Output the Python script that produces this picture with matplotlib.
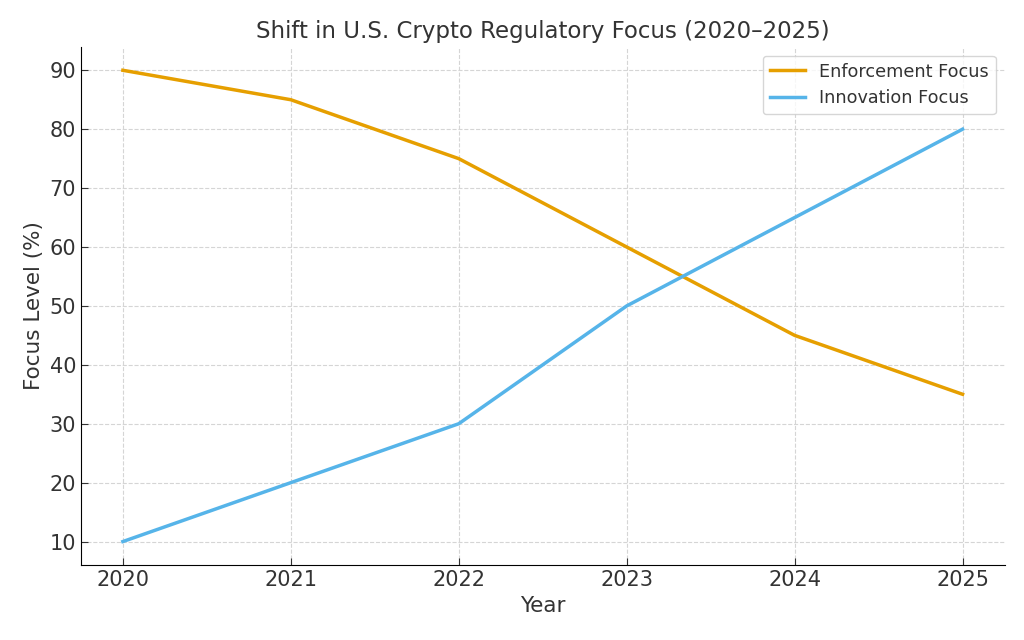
import matplotlib
matplotlib.use('Agg')
import matplotlib.pyplot as plt

YEARS = [2020, 2021, 2022, 2023, 2024, 2025]
ENFORCEMENT = [90, 85, 75, 60, 45, 35]
INNOVATION = [10, 20, 30, 50, 65, 80]

TEXT = '#333333'

plt.rcParams['font.family'] = ['DejaVu Sans']
plt.rcParams['text.color'] = TEXT
plt.rcParams['axes.labelcolor'] = TEXT
plt.rcParams['xtick.color'] = TEXT
plt.rcParams['ytick.color'] = TEXT

fig, ax = plt.subplots(figsize=(10.24, 6.4), dpi=100)
fig.subplots_adjust(left=0.079, right=0.981, top=0.927, bottom=0.117)

ax.plot(YEARS, ENFORCEMENT, color='#E69F00', linewidth=2.5, label='Enforcement Focus')
ax.plot(YEARS, INNOVATION, color='#56B4E9', linewidth=2.5, label='Innovation Focus')

ax.set_title('Shift in U.S. Crypto Regulatory Focus (2020\u20132025)', fontsize=16.5)
ax.set_xlabel('Year', fontsize=15.5)
ax.set_ylabel('Focus Level (%)', fontsize=15.5)
ax.tick_params(labelsize=15, direction='in', length=5)
ax.set_xticks(YEARS)

ax.grid(True, linestyle='--', color='#d5d5d5', linewidth=0.8)
ax.spines['top'].set_visible(False)
ax.spines['right'].set_visible(False)

ax.legend(loc='upper right', fontsize=12.7)

fig.savefig('out.png', dpi=100)
